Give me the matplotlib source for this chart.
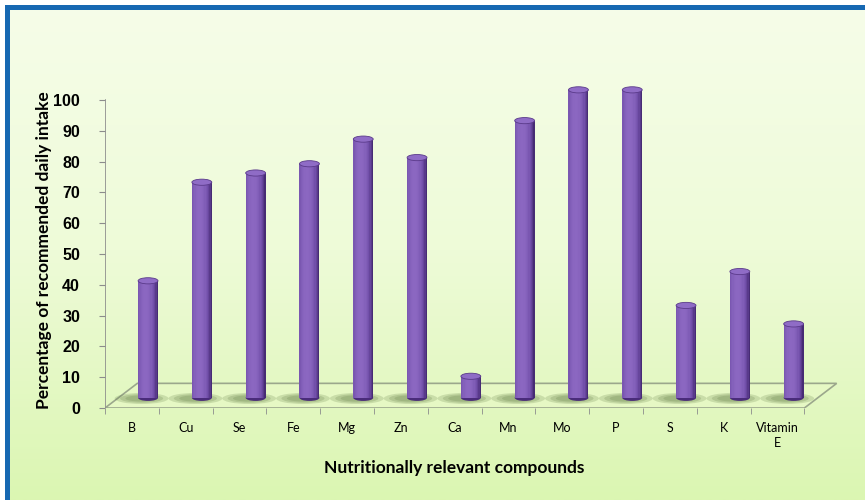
import numpy as np
import matplotlib.pyplot as plt
from matplotlib.patches import Polygon, Ellipse, Rectangle
from matplotlib.colors import LinearSegmentedColormap

# data
compounds = ['B', 'Cu', 'Se', 'Fe', 'Mg', 'Zn', 'Ca', 'Mn', 'Mo', 'P', 'S', 'K', 'Vitamin\nE']
pct_intake = [38, 70, 73, 76, 84, 78, 7, 90, 100, 100, 30, 41, 24]
y_ticks = list(range(0, 101, 10))

W, H = 865, 500
fig = plt.figure(figsize=(W / 100, H / 100), dpi=100)

# background with gradient and blue frame
bg = fig.add_axes([0, 0, 1, 1])
bg.set_axis_off()
bg.set_xlim(0, 1)
bg.set_ylim(0, 1)
bg_cmap = LinearSegmentedColormap.from_list('bg', ['#f6fde9', '#eefbd8', '#dbf6b2'])
grad = np.linspace(0, 1, 256).reshape(-1, 1)
bg.imshow(grad, cmap=bg_cmap, aspect='auto', extent=[0, 1, 0, 1])
bg.add_patch(Rectangle((0, 0), 5 / W, 1, color='white', lw=0))
bg.add_patch(Rectangle((0, 1 - 5 / H), 1, 5 / H, color='white', lw=0))
bg.add_patch(Rectangle((5 / W, 0), 5 / W, 1 - 5 / H, color='#1668b2', lw=0))
bg.add_patch(Rectangle((5 / W, 1 - 10 / H), 1, 5 / H, color='#1668b2', lw=0))

# main axes: 53.8 px per category, 3.08 px per percent
ax = fig.add_axes([105 / W, 92 / H, 13.8 * 53.8 / W, 110 * 3.08 / H])
ax.set_xlim(0, 13.8)
ax.set_ylim(0, 110)
ax.patch.set_visible(False)
for s in ax.spines.values():
    s.set_visible(False)

dx, dy = 0.6, 8.0   # depth of the 3D floor
n = len(compounds)

# floor
ax.add_patch(Polygon([(0, 0), (n, 0), (n + dx, dy), (dx, dy)], closed=True,
                     facecolor='#e6f8c4', edgecolor='#9ba78c', lw=1.2, zorder=1))
ax.plot([0, 0], [0, 100], color='#8c8c8c', lw=1.2, zorder=1)

# cylinders
cyl_cmap = LinearSegmentedColormap.from_list('cyl', ['#3a2162', '#573889', '#7452ac', '#8b67c1'])
w = 0.37
base = 3.3
cap_h = 2.0
nstrip = 16
for i, v in enumerate(pct_intake):
    xc = i + 0.5 + dx / 2
    # soft shadow on the floor
    for ew, eh in [(1.0, 3.6), (0.8, 2.8), (0.6, 2.0)]:
        ax.add_patch(Ellipse((xc - 0.12, base - 0.2), ew, eh, color='#56733a',
                             alpha=0.2, lw=0, zorder=2))
    ax.add_patch(Ellipse((xc, base), w, cap_h, color='#4a2c7a', lw=0, zorder=3))
    for k in range(nstrip):
        t = -1 + (k + 0.5) * 2 / nstrip
        shade = max(0.0, 1 - ((t + 0.25) / 1.25) ** 2) ** 0.8
        x0 = xc - w / 2 + (k + 0.5) * w / nstrip
        ax.bar(x0, v, bottom=base, width=w / nstrip * 1.05, color=cyl_cmap(shade),
               lw=0, zorder=4)
    ax.add_patch(Ellipse((xc, base + v), w, cap_h, facecolor='#8f6cc6',
                         edgecolor='#5a3a8a', lw=0.6, zorder=5))

# y ticks
ax.set_yticks(y_ticks)
ax.tick_params(axis='y', direction='out', length=4, color='#8c8c8c', pad=14)
for lab in ax.get_yticklabels():
    lab.set_fontfamily('Liberation Sans')
    lab.set_fontweight('bold')
    lab.set_fontsize(11.5)

# x ticks: marks at the category boundaries, labels at centres
ax.set_xticks(np.arange(0, n + 1), minor=True)
ax.set_xticks(np.arange(n) + 0.5)
ax.set_xticklabels(compounds, fontfamily='Lato', fontsize=9, linespacing=1.3)
ax.tick_params(axis='x', which='major', length=0, pad=10)
ax.tick_params(axis='x', which='minor', direction='out', length=4, color='#8c8c8c')

fig.text(44 / W, 1 - 250 / H, 'Percentage of recommended daily intake', rotation=90,
         ha='center', va='center', fontfamily='Lato', fontweight='bold', fontsize=12.5)
fig.text(454 / W, 1 - 468 / H, 'Nutritionally relevant compounds',
         ha='center', va='center', fontfamily='Lato', fontweight='bold', fontsize=12.5)

fig.savefig('out.png', dpi=100)
